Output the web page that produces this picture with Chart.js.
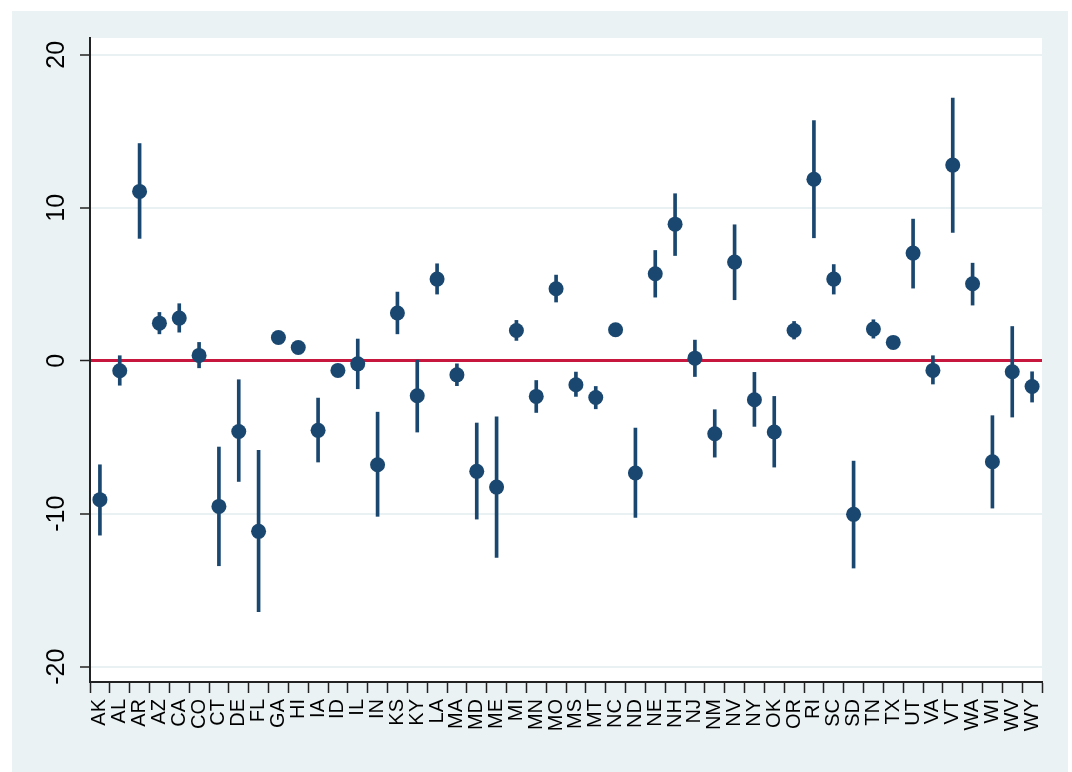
<!DOCTYPE html>
<html>
<head>
<meta charset="utf-8">
<title>State estimates</title>
<script src="https://cdn.jsdelivr.net/npm/chart.js@4/dist/chart.umd.min.js"></script>
<style>
    html, body { margin: 0; padding: 0; background: #ffffff; }
    canvas { display: block; }
</style>
</head>
<body>
<canvas id="stateChart" width="1072" height="772"></canvas>
<script>
// States on the x axis
const states = ["AK", "AL", "AR", "AZ", "CA", "CO", "CT", "DE", "FL", "GA", "HI", "IA", "ID", "IL", "IN", "KS",
    "KY", "LA", "MA", "MD", "ME", "MI", "MN", "MO", "MS", "MT", "NC", "ND", "NE", "NH", "NJ", "NM",
    "NV", "NY", "OK", "OR", "RI", "SC", "SD", "TN", "TX", "UT", "VA", "VT", "WA", "WI", "WV", "WY"];

// Point estimates
const estimates = [-9.08, -0.65, 11.07, 2.46, 2.79, 0.35, -9.52, -4.62, -11.15, 1.52, 0.87, -4.55, -0.63, -0.2, -6.8, 3.12,
    -2.29, 5.34, -0.92, -7.23, -8.26, 1.98, -2.33, 4.71, -1.57, -2.4, 2.03, -7.34, 5.69, 8.93, 0.17, -4.77,
    6.45, -2.55, -4.66, 1.98, 11.87, 5.34, -10.04, 2.07, 1.2, 7.04, -0.63, 12.79, 5.03, -6.6, -0.72, -1.68];

// Confidence interval bounds
const lower = [-11.4, -1.6, 8.0, 1.76, 1.87, -0.46, -13.4, -7.89, -16.4, 1.3, 0.65, -6.62, -0.85, -1.83, -10.17, 1.76,
    -4.66, 4.36, -1.63, -10.35, -12.85, 1.33, -3.38, 3.84, -2.33, -3.14, 1.75, -10.24, 4.16, 6.88, -1.03, -6.3,
    3.99, -4.29, -6.95, 1.42, 8.04, 4.36, -13.55, 1.48, 1.0, 4.75, -1.52, 8.39, 3.64, -9.63, -3.68, -2.7];
const upper = [-6.8, 0.33, 14.2, 3.16, 3.73, 1.2, -5.64, -1.24, -5.86, 1.75, 1.1, -2.44, -0.4, 1.42, -3.36, 4.49,
    0.04, 6.34, -0.2, -4.07, -3.66, 2.64, -1.29, 5.6, -0.74, -1.68, 2.3, -4.4, 7.21, 10.92, 1.35, -3.2,
    8.89, -0.76, -2.33, 2.57, 15.7, 6.29, -6.56, 2.68, 1.4, 9.26, 0.33, 17.17, 6.38, -3.59, 2.24, -0.72];

// Y axis ticks
const yTicks = [-20, -10, 0, 10, 20];

const navy = "#1a476f";
const fontFamily = "'Liberation Sans', Arial, sans-serif";

// Stata-like backgrounds: outer region and white plot area
const backgroundPlugin = {
    id: "backgrounds",
    beforeDraw(chart) {
        const ctx = chart.ctx;
        const area = chart.chartArea;
        ctx.save();
        ctx.fillStyle = "#eaf2f3";
        ctx.fillRect(12, 11, 1056, 761);
        ctx.fillStyle = "#ffffff";
        ctx.fillRect(area.left, area.top, area.right - area.left, area.bottom - area.top);
        ctx.restore();
    }
};

const ctx = document.getElementById("stateChart").getContext("2d");
new Chart(ctx, {
    data: {
        labels: states,
        datasets: [
            {
                type: "line",
                label: "Estimate",
                data: estimates,
                showLine: false,
                pointRadius: 7.5,
                pointBackgroundColor: navy,
                pointBorderWidth: 0,
                order: 0
            },
            {
                type: "bar",
                label: "CI",
                data: states.map((s, i) => [lower[i], upper[i]]),
                backgroundColor: navy,
                borderWidth: 0,
                barThickness: 3,
                order: 1
            }
        ]
    },
    options: {
        responsive: false,
        animation: false,
        devicePixelRatio: 1,
        layout: { padding: { left: 0, top: 38, right: 30, bottom: 0 } },
        plugins: {
            legend: { display: false },
            tooltip: { enabled: false }
        },
        scales: {
            x: {
                type: "category",
                offset: true,
                grid: {
                    drawOnChartArea: false,
                    tickLength: 11,
                    tickColor: "#222222",
                    tickWidth: 1.5
                },
                border: { color: "#222222", width: 2 },
                ticks: {
                    autoSkip: false,
                    minRotation: 90,
                    maxRotation: 90,
                    padding: 6,
                    color: "#000000",
                    font: { family: fontFamily, size: 20 }
                },
                afterFit(scale) { scale.height = 90; }
            },
            y: {
                type: "linear",
                min: -21,
                max: 21.1,
                afterBuildTicks(scale) {
                    scale.ticks = yTicks.map(v => ({ value: v }));
                },
                grid: {
                    color: c => (c.tick && c.tick.value === 0 ? "#c8173f" : "#e9f1f2"),
                    lineWidth: c => (c.tick && c.tick.value === 0 ? 3 : 2),
                    tickLength: 10,
                    tickColor: "#222222",
                    tickWidth: 1.5
                },
                border: { color: "#222222", width: 2 },
                ticks: {
                    minRotation: 90,
                    maxRotation: 90,
                    crossAlign: "center",
                    padding: 5,
                    color: "#000000",
                    font: { family: fontFamily, size: 25 }
                },
                afterFit(scale) { scale.width = 90; }
            }
        }
    },
    plugins: [backgroundPlugin]
});
</script>
</body>
</html>
